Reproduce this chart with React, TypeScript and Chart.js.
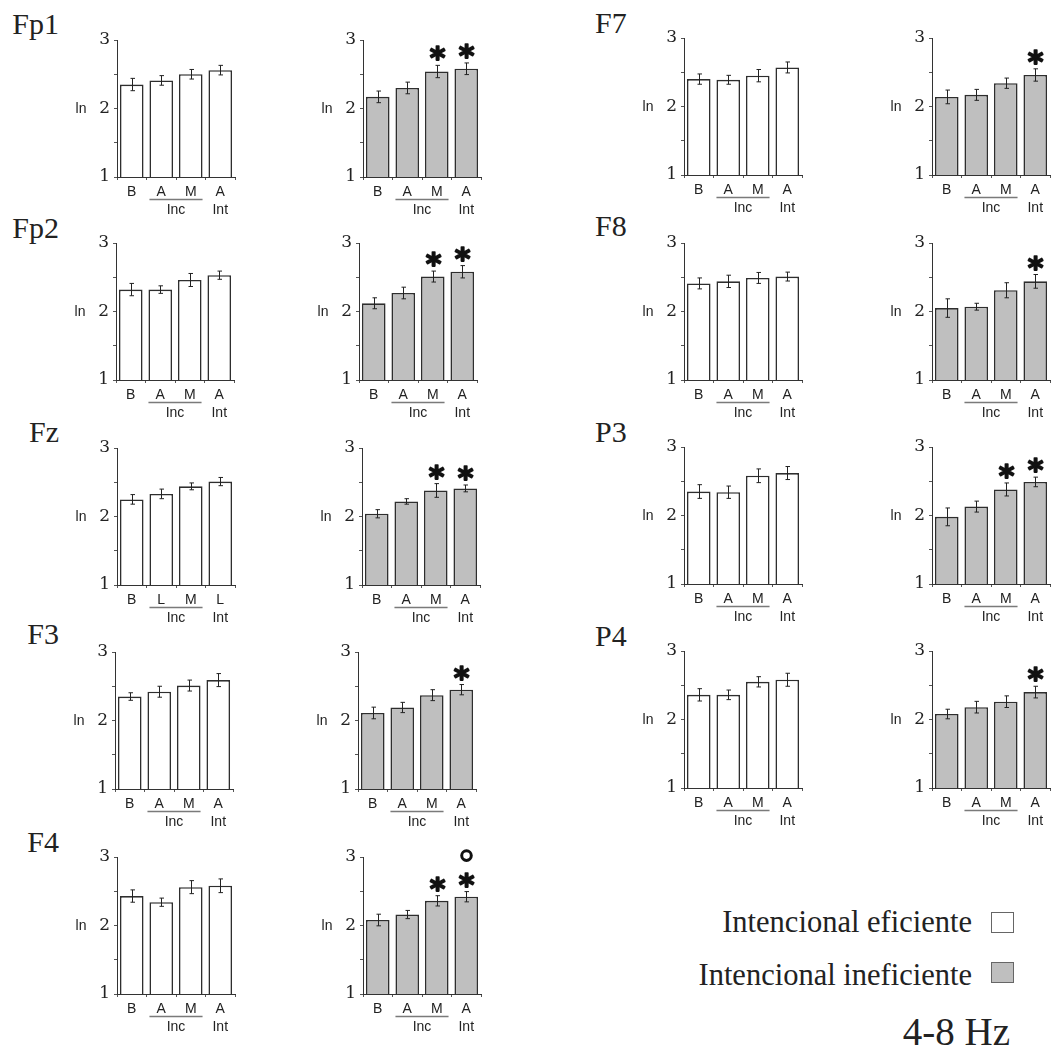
import React, { useEffect, useRef } from 'react';
import { Chart, registerables } from 'chart.js';

Chart.register(...registerables);

// ---------------- data ----------------
const electrodes = ['Fp1', 'Fp2', 'Fz', 'F3', 'F4', 'F7', 'F8', 'P3', 'P4'];
const conditionLabels = ['B', 'A', 'M', 'A'];
const conditionLabelsFz = ['B', 'L', 'M', 'L'];
const groupLabels = ['Inc', 'Int'];
const yTicks = [1, 2, 3];

const efficientMeans = [
  [2.35, 2.41, 2.50, 2.56], // Fp1
  [2.32, 2.32, 2.46, 2.53], // Fp2
  [2.25, 2.33, 2.44, 2.51], // Fz
  [2.35, 2.42, 2.51, 2.59], // F3
  [2.43, 2.34, 2.56, 2.58], // F4
  [2.40, 2.39, 2.45, 2.57], // F7
  [2.41, 2.44, 2.49, 2.51], // F8
  [2.35, 2.34, 2.58, 2.62], // P3
  [2.36, 2.36, 2.55, 2.58], // P4
];
const efficientErrors = [
  [0.09, 0.07, 0.07, 0.07],
  [0.09, 0.055, 0.095, 0.06],
  [0.07, 0.07, 0.05, 0.06],
  [0.055, 0.08, 0.08, 0.095],
  [0.09, 0.06, 0.095, 0.10],
  [0.075, 0.065, 0.09, 0.08],
  [0.08, 0.09, 0.08, 0.065],
  [0.10, 0.09, 0.10, 0.095],
  [0.09, 0.07, 0.075, 0.095],
];
const inefficientMeans = [
  [2.17, 2.30, 2.54, 2.58],
  [2.12, 2.27, 2.51, 2.58],
  [2.04, 2.22, 2.38, 2.41],
  [2.11, 2.19, 2.37, 2.45],
  [2.08, 2.16, 2.36, 2.42],
  [2.14, 2.17, 2.34, 2.46],
  [2.05, 2.07, 2.31, 2.44],
  [1.98, 2.13, 2.38, 2.49],
  [2.08, 2.18, 2.26, 2.40],
];
const inefficientErrors = [
  [0.085, 0.085, 0.09, 0.085],
  [0.08, 0.085, 0.08, 0.09],
  [0.06, 0.04, 0.10, 0.05],
  [0.085, 0.075, 0.08, 0.075],
  [0.085, 0.06, 0.075, 0.075],
  [0.10, 0.08, 0.075, 0.09],
  [0.135, 0.05, 0.11, 0.10],
  [0.13, 0.08, 0.095, 0.07],
  [0.07, 0.085, 0.085, 0.085],
];
const inefficientStars = [
  [0, 0, 1, 1],
  [0, 0, 1, 1],
  [0, 0, 1, 1],
  [0, 0, 0, 1],
  [0, 0, 1, 1],
  [0, 0, 0, 1],
  [0, 0, 0, 1],
  [0, 0, 1, 1],
  [0, 0, 0, 1],
];
const inefficientCircles = [
  [0, 0, 0, 0],
  [0, 0, 0, 0],
  [0, 0, 0, 0],
  [0, 0, 0, 0],
  [0, 0, 0, 1],
  [0, 0, 0, 0],
  [0, 0, 0, 0],
  [0, 0, 0, 0],
  [0, 0, 0, 0],
];
const legendLabels = ['Intencional eficiente', 'Intencional ineficiente'];
const bandLabel = '4-8 Hz';

// ---------------- layout (positions only) ----------------
const panelLayout = [
  { axisX: [117, 363], top: 40, tx: 59, ty: 34, anchor: 'end' },
  { axisX: [116, 359], top: 243, tx: 59, ty: 238, anchor: 'end' },
  { axisX: [117, 362], top: 448, tx: 59, ty: 442, anchor: 'end' },
  { axisX: [115, 358], top: 652, tx: 59, ty: 644, anchor: 'end' },
  { axisX: [117, 363], top: 857, tx: 59, ty: 852, anchor: 'end' },
  { axisX: [684, 932], top: 38, tx: 595, ty: 33, anchor: 'start' },
  { axisX: [684, 932], top: 243, tx: 595, ty: 236, anchor: 'start' },
  { axisX: [684, 932], top: 447, tx: 595, ty: 442, anchor: 'start' },
  { axisX: [684, 932], top: 651, tx: 595, ty: 646, anchor: 'start' },
];

const PAD_TOP = 34;
const Y_AXIS_W = 60;
const PLOT_W = 118;
const PLOT_H = 137;
const PAD_RIGHT = 2;
const X_AXIS_H = 52;
const CANVAS_W = Y_AXIS_W + PLOT_W + PAD_RIGHT;
const CANVAS_H = PAD_TOP + PLOT_H + X_AXIS_H;

const WHITE = '#ffffff';
const GRAY = '#bfbfbf';
const INK = '#222222';

type PanelProps = {
  left: number;
  top: number;
  labels: string[];
  means: number[];
  errors: number[];
  stars: number[];
  circles: number[];
  fill: string;
};

function BarPanel({ left, top, labels, means, errors, stars, circles, fill }: PanelProps) {
  const ref = useRef<HTMLCanvasElement | null>(null);

  useEffect(() => {
    if (!ref.current) return;
    const annot = {
      id: 'annot',
      afterDatasetsDraw(chart: any) {
        const ctx = chart.ctx;
        const xs = chart.scales.x;
        const ys = chart.scales.y;
        ctx.save();
        means.forEach((m, i) => {
          const x = Math.round(xs.getPixelForValue(i)) + 0.5;
          const yT = ys.getPixelForValue(m + errors[i]);
          const yB = ys.getPixelForValue(m - errors[i]);
          ctx.strokeStyle = INK;
          ctx.lineWidth = 1;
          ctx.beginPath();
          ctx.moveTo(x, yT);
          ctx.lineTo(x, yB);
          ctx.moveTo(x - 2, yT);
          ctx.lineTo(x + 2.5, yT);
          ctx.moveTo(x - 2, yB);
          ctx.lineTo(x + 2.5, yB);
          ctx.stroke();
          let topY = yT;
          if (stars[i]) {
            ctx.font = 'bold 30px "DejaVu Sans"';
            ctx.fillStyle = '#111';
            ctx.strokeStyle = '#111';
            ctx.lineWidth = 1.6;
            ctx.lineJoin = 'round';
            ctx.textAlign = 'center';
            ctx.textBaseline = 'alphabetic';
            const mt = ctx.measureText('*');
            const desc = mt.actualBoundingBoxDescent || -8;
            const asc = mt.actualBoundingBoxAscent || 20;
            const baseY = yT - 4 - desc;
            ctx.fillText('*', x, baseY);
            ctx.strokeText('*', x, baseY);
            topY = baseY - asc;
          }
          if (circles[i]) {
            ctx.beginPath();
            ctx.lineWidth = 3;
            ctx.strokeStyle = '#111';
            ctx.arc(x, topY - 17, 4.8, 0, Math.PI * 2);
            ctx.stroke();
          }
        });
        ctx.restore();
      },
      afterDraw(chart: any) {
        const ctx = chart.ctx;
        const xs = chart.scales.x;
        const ys = chart.scales.y;
        const area = chart.chartArea;
        ctx.save();
        ctx.fillStyle = INK;
        ctx.font = '14px "Liberation Sans", Arial, sans-serif';
        ctx.textAlign = 'center';
        ctx.textBaseline = 'middle';
        ctx.fillText('ln', area.left - 36, ys.getPixelForValue(2) + 1);
        const bars = chart.getDatasetMeta(0).data;
        const half = bars[1].width / 2;
        const xA = xs.getPixelForValue(1);
        const xM = xs.getPixelForValue(2);
        const xI = xs.getPixelForValue(3);
        const lineY = area.bottom + 22.5;
        ctx.strokeStyle = '#7a7a7a';
        ctx.lineWidth = 1.5;
        ctx.beginPath();
        ctx.moveTo(xA - half, lineY);
        ctx.lineTo(xM + half, lineY);
        ctx.stroke();
        ctx.textBaseline = 'alphabetic';
        ctx.fillText(groupLabels[0], (xA + xM) / 2, area.bottom + 37);
        ctx.fillText(groupLabels[1], xI, area.bottom + 37);
        ctx.restore();
      },
    };

    const chart = new Chart(ref.current, {
      type: 'bar',
      data: {
        labels,
        datasets: [
          {
            data: means,
            backgroundColor: fill,
            borderColor: '#2e2e2e',
            borderWidth: 1.6,
            barPercentage: 0.8,
            categoryPercentage: 1,
          },
        ],
      },
      options: {
        responsive: false,
        animation: false,
        devicePixelRatio: 1,
        layout: { padding: { top: PAD_TOP, right: PAD_RIGHT, left: 0, bottom: 0 } },
        plugins: {
          legend: { display: false },
          tooltip: { enabled: false },
          title: { display: false },
        },
        scales: {
          x: {
            grid: {
              display: true,
              drawOnChartArea: false,
              drawTicks: true,
              tickLength: 3,
              color: '#555',
              offset: true,
            },
            border: { display: true, color: '#333', width: 1 },
            ticks: {
              font: { family: '"Liberation Sans", Arial, sans-serif', size: 14 },
              color: INK,
              padding: 4,
              autoSkip: false,
              maxRotation: 0,
            },
            afterFit: (s: any) => {
              s.height = X_AXIS_H;
            },
          },
          y: {
            min: 1,
            max: 3,
            ticks: {
              stepSize: 0.5,
              callback: (v: any) => (yTicks.includes(Number(v)) ? String(v) : ''),
              font: { family: '"DejaVu Serif", serif', size: 17 },
              color: INK,
              padding: 4,
            },
            grid: {
              display: true,
              drawOnChartArea: false,
              drawTicks: true,
              tickLength: 3,
              color: '#555',
            },
            border: { display: true, color: '#333', width: 1 },
            afterFit: (s: any) => {
              s.width = Y_AXIS_W;
            },
          },
        },
      },
      plugins: [annot],
    } as any);
    return () => chart.destroy();
  }, []);

  return (
    <canvas
      ref={ref}
      width={CANVAS_W}
      height={CANVAS_H}
      style={{
        position: 'absolute',
        left,
        top,
        width: CANVAS_W,
        height: CANVAS_H,
      }}
    />
  );
}

export default function App() {
  const serif = '"Liberation Serif", "Times New Roman", serif';
  return (
    <div
      style={{
        position: 'absolute',
        left: 0,
        top: 0,
        width: 1052,
        height: 1049,
        background: '#fff',
        overflow: 'hidden',
      }}
    >
      <svg
        width={1052}
        height={1049}
        style={{ position: 'absolute', left: 0, top: 0 }}
      >
        {electrodes.map((name, i) => (
          <text
            key={name}
            x={panelLayout[i].tx}
            y={panelLayout[i].ty}
            textAnchor={panelLayout[i].anchor as any}
            fontFamily={serif}
            fontSize={30}
            fill={INK}
          >
            {name}
          </text>
        ))}
        <text x={972} y={932} textAnchor="end" fontFamily={serif} fontSize={30.5} fill={INK}>
          {legendLabels[0]}
        </text>
        <rect x={991.5} y={912.5} width={22} height={20} fill={WHITE} stroke="#666" strokeWidth={1} />
        <text x={972} y={985} textAnchor="end" fontFamily={serif} fontSize={30.5} fill={INK}>
          {legendLabels[1]}
        </text>
        <rect x={991.5} y={962.5} width={22} height={20} fill={GRAY} stroke="#666" strokeWidth={1} />
        <text x={1010} y={1045} textAnchor="end" fontFamily={serif} fontSize={39} fill={INK}>
          {bandLabel}
        </text>
      </svg>
      {electrodes.map((name, i) => (
        <React.Fragment key={name}>
          <BarPanel
            left={panelLayout[i].axisX[0] - Y_AXIS_W}
            top={panelLayout[i].top - PAD_TOP}
            labels={name === 'Fz' ? conditionLabelsFz : conditionLabels}
            means={efficientMeans[i]}
            errors={efficientErrors[i]}
            stars={[0, 0, 0, 0]}
            circles={[0, 0, 0, 0]}
            fill={WHITE}
          />
          <BarPanel
            left={panelLayout[i].axisX[1] - Y_AXIS_W}
            top={panelLayout[i].top - PAD_TOP}
            labels={conditionLabels}
            means={inefficientMeans[i]}
            errors={inefficientErrors[i]}
            stars={inefficientStars[i]}
            circles={inefficientCircles[i]}
            fill={GRAY}
          />
        </React.Fragment>
      ))}
    </div>
  );
}
